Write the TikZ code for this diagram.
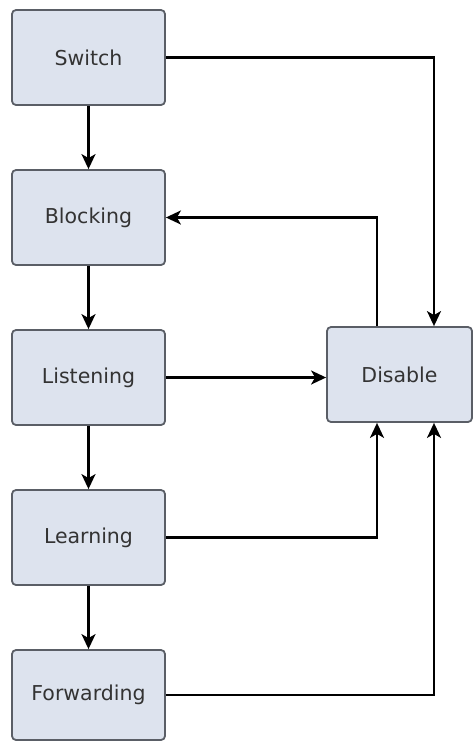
\documentclass[tikz,border=0pt]{standalone}
\usepackage{fontspec}
\setmainfont{DejaVu Sans}
\usetikzlibrary{arrows.meta}
\definecolor{boxfill}{HTML}{DDE3EE}
\definecolor{boxline}{HTML}{5A5E66}
\tikzset{state/.style={draw=boxline,fill=boxfill,line width=1.8pt,rounded corners=4pt,minimum width=153pt,minimum height=95pt,inner sep=0pt,font=\fontsize{20.5}{24}\selectfont,text=black!80},
  link/.style={line width=2.2pt,-{Stealth[length=15pt,width=14pt,inset=4pt]}}}
\begin{document}
\begin{tikzpicture}[x=1pt,y=-1pt]
\useasboundingbox (0,0) rectangle (473,745);
\node[state] (sw) at (88.5,57.5) {Switch};
\node[state] (blk) at (88.5,217.5) {Blocking};
\node[state] (lis) at (88.5,377.5) {Listening};
\node[state] (lrn) at (88.5,537.5) {Learning};
\node[state,minimum height=90pt] (fwd) at (88.5,695) {Forwarding};
\node[state,minimum width=145pt] (dis) at (399.5,374.5) {Disable};
% down the chain
\draw[link] (sw) -- (blk);
\draw[link] (blk) -- (lis);
\draw[link] (lis) -- (lrn);
\draw[link] (lrn) -- (fwd);
% to and from disable
\draw[link] (sw.east) -| ([xshift=34.5pt]dis.north);
\draw[link] ([xshift=-22.5pt]dis.north) |- (blk.east);
\draw[link] (lis.east) -- (lis.east -| dis.west);
\draw[link] (lrn.east) -| ([xshift=-22.5pt]dis.south);
\draw[link] (fwd.east) -| ([xshift=34.5pt]dis.south);
\end{tikzpicture}
\end{document}
